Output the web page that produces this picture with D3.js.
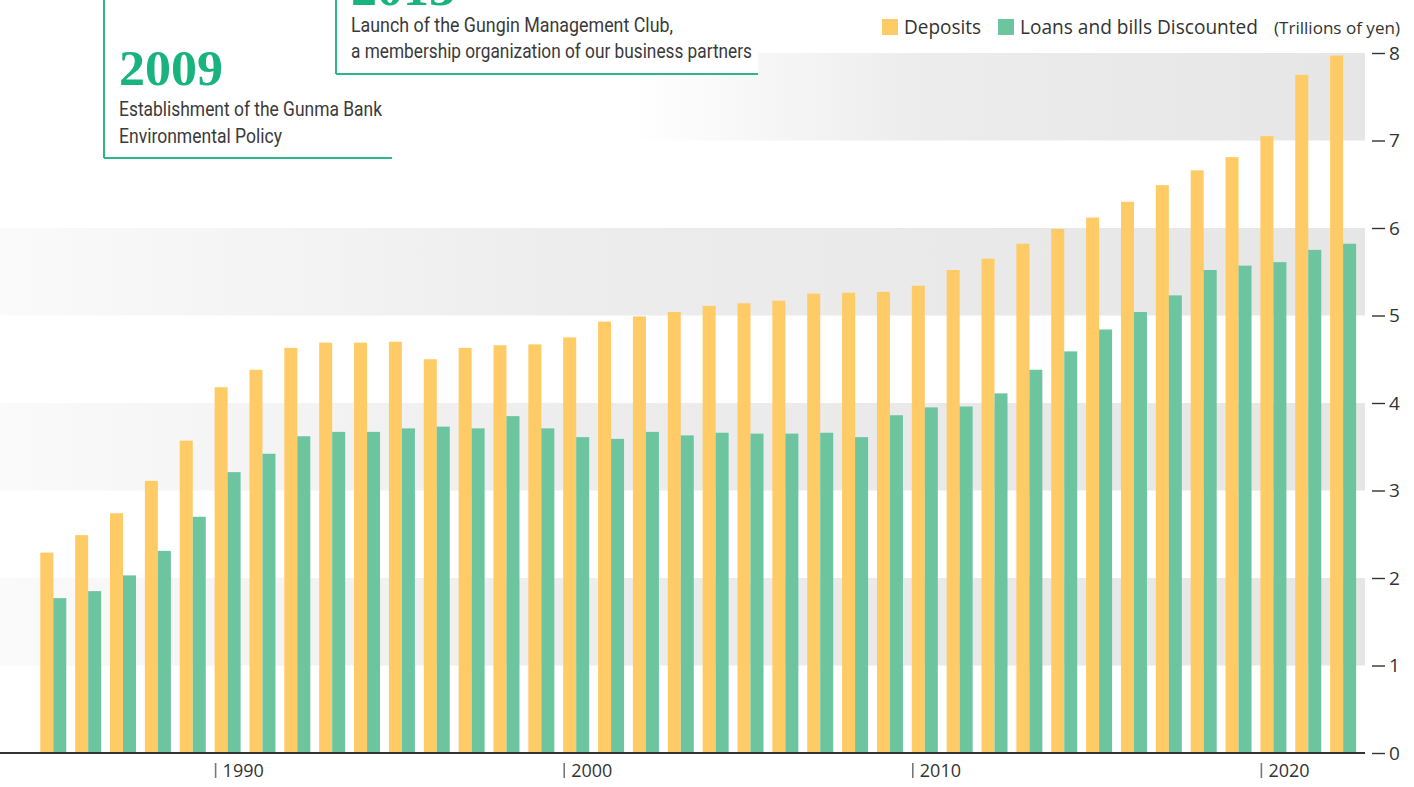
<!DOCTYPE html>
<html>
<head>
<meta charset="utf-8">
<script src="https://cdn.jsdelivr.net/npm/d3@7"></script>
<style>
  html, body { margin: 0; padding: 0; background: #fff; }
  svg { display: block; }
</style>
</head>
<body>
<svg id="chart" width="1414" height="787"></svg>
<script>
// ---- data (trillions of yen) ----
const years = d3.range(1985, 2023);
const deposits = [2.29, 2.49, 2.74, 3.11, 3.57, 4.18, 4.38, 4.63, 4.69, 4.69,
                  4.70, 4.50, 4.63, 4.66, 4.67, 4.75, 4.93, 4.99, 5.04, 5.11,
                  5.14, 5.17, 5.25, 5.26, 5.27, 5.34, 5.52, 5.65, 5.82, 5.99,
                  6.12, 6.30, 6.49, 6.66, 6.81, 7.05, 7.75, 7.97];
const loans =    [1.77, 1.85, 2.03, 2.31, 2.70, 3.21, 3.42, 3.62, 3.67, 3.67,
                  3.71, 3.73, 3.71, 3.85, 3.71, 3.61, 3.59, 3.67, 3.63, 3.66,
                  3.65, 3.65, 3.66, 3.61, 3.86, 3.95, 3.96, 4.11, 4.38, 4.59,
                  4.84, 5.04, 5.23, 5.52, 5.57, 5.61, 5.75, 5.82];
const seriesNames = ["Deposits", "Loans and bills Discounted"];
const seriesKeys = ["dep", "loan"];
const yTicks = [0, 1, 2, 3, 4, 5, 6, 7, 8];
const xLabelYears = [1990, 2000, 2010, 2020];
const bandStarts = [1, 3, 5, 7];

const colors = { dep: "#ffcb66", loan: "#6dc59f" };
const green = "#2db686";

const svg = d3.select("#chart");
const plotRight = 1365;
const y0 = 753;

const y = d3.scaleLinear().domain([0, 8]).range([y0, 53]);

const step = 34.86;
const outer = 40.3 / step;
const inner = 1 - 26 / step;
const x = d3.scaleBand().domain(years)
  .range([0, step * (years.length - inner + 2 * outer)])
  .paddingInner(inner).paddingOuter(outer);
const x1 = d3.scaleBand().domain(seriesKeys).range([0, x.bandwidth()]);

// ---- gradients ----
const defs = svg.append("defs");
const g1 = defs.append("linearGradient").attr("id", "bandGrad")
  .attr("gradientUnits", "userSpaceOnUse").attr("x1", 0).attr("x2", plotRight).attr("y1", 0).attr("y2", 0);
g1.append("stop").attr("offset", 0).attr("stop-color", "#fafafa");
g1.append("stop").attr("offset", 0.45).attr("stop-color", "#ececec");
g1.append("stop").attr("offset", 1).attr("stop-color", "#e6e6e6");
const g2 = defs.append("linearGradient").attr("id", "bandGradTop")
  .attr("gradientUnits", "userSpaceOnUse").attr("x1", 630).attr("x2", plotRight).attr("y1", 0).attr("y2", 0);
g2.append("stop").attr("offset", 0).attr("stop-color", "#ffffff");
g2.append("stop").attr("offset", 0.4).attr("stop-color", "#ececec");
g2.append("stop").attr("offset", 1).attr("stop-color", "#e6e6e6");

// ---- background bands ----
svg.append("g").selectAll("rect").data(bandStarts).join("rect")
  .attr("x", 0).attr("width", plotRight)
  .attr("y", d => y(d + 1)).attr("height", d => y(d) - y(d + 1))
  .attr("fill", d => d === 7 ? "url(#bandGradTop)" : "url(#bandGrad)");

// ---- bars ----
const rows = years.map((yr, i) => ({ year: yr, dep: deposits[i], loan: loans[i] }));
const groups = svg.append("g").selectAll("g").data(rows).join("g")
  .attr("transform", d => `translate(${x(d.year)},0)`);
groups.selectAll("rect").data(d => seriesKeys.map(k => ({ key: k, value: d[k] }))).join("rect")
  .attr("x", d => x1(d.key)).attr("width", x1.bandwidth())
  .attr("y", d => y(d.value)).attr("height", d => y0 - y(d.value))
  .attr("fill", d => colors[d.key]);

// ---- x axis line ----
svg.append("line").attr("x1", 0).attr("x2", plotRight).attr("y1", y0).attr("y2", y0)
  .attr("stroke", "#333").attr("stroke-width", 2);

// x labels
const xl = svg.append("g").selectAll("g").data(xLabelYears).join("g")
  .attr("transform", d => `translate(${x(d)},0)`);
xl.append("line").attr("x1", 1).attr("x2", 1).attr("y1", 763).attr("y2", 778)
  .attr("stroke", "#777").attr("stroke-width", 1.6);
xl.append("text").attr("x", 8).attr("y", 777)
  .attr("font-family", "Open Sans, sans-serif").attr("font-size", 18).attr("fill", "#333")
  .text(d => d);

// ---- y axis ----
const yAxis = d3.axisRight(y).tickValues(yTicks).tickSize(13).tickPadding(4).tickFormat(d3.format("d"));
const ya = svg.append("g").attr("transform", `translate(1372,0)`).call(yAxis);
ya.select(".domain").remove();
ya.selectAll(".tick line").attr("stroke", "#333").attr("stroke-width", 1.4);
ya.selectAll(".tick text").attr("font-family", "Open Sans, sans-serif").attr("font-size", 19).attr("fill", "#333");

// ---- legend ----
const legendX = [882, 998];
const legendTextW = [77, 238];
const lg = svg.append("g").selectAll("g").data(seriesKeys).join("g")
  .attr("transform", (d, i) => `translate(${legendX[i]},0)`);
lg.append("rect").attr("x", 0).attr("y", 19).attr("width", 16).attr("height", 16)
  .attr("fill", d => colors[d]);
lg.append("text").attr("x", 22).attr("y", 34)
  .attr("font-family", "Open Sans, sans-serif").attr("font-size", 20).attr("fill", "#333")
  .attr("textLength", (d, i) => legendTextW[i]).attr("lengthAdjust", "spacingAndGlyphs")
  .text((d, i) => seriesNames[i]);
svg.append("text").attr("x", 1274).attr("y", 34)
  .attr("font-family", "Open Sans, sans-serif").attr("font-size", 15.5).attr("fill", "#333")
  .attr("textLength", 126).attr("lengthAdjust", "spacingAndGlyphs")
  .text("(Trillions of yen)");

// ---- annotation boxes ----
const notes = [
  { year: "2009", left: 104, right: 392, bottom: 158, yearBase: 85, lines: [
      { t: "Establishment of the Gunma Bank", w: 263, base: 116 },
      { t: "Environmental Policy", w: 163, base: 143 }] },
  { year: "2013", left: 336, right: 758, bottom: 74, yearBase: 5, lines: [
      { t: "Launch of the Gungin Management Club,", w: 322, base: 32 },
      { t: "a membership organization of our business partners", w: 401, base: 58 }] }
];
notes.forEach(n => {
  const g = svg.append("g");
  g.append("rect").attr("x", n.left).attr("y", -2).attr("width", n.right - n.left).attr("height", n.bottom + 2)
    .attr("fill", "#fff");
  g.append("line").attr("x1", n.left).attr("x2", n.left).attr("y1", 0).attr("y2", n.bottom)
    .attr("stroke", green).attr("stroke-width", 2);
  g.append("line").attr("x1", n.left).attr("x2", n.right).attr("y1", n.bottom).attr("y2", n.bottom)
    .attr("stroke", green).attr("stroke-width", 2);
  g.append("text").attr("x", n.left + 15).attr("y", n.yearBase)
    .attr("font-family", "Liberation Serif, DejaVu Serif, serif").attr("font-size", 50)
    .attr("font-weight", "bold")
    .attr("fill", "#19b37e").attr("textLength", 104).attr("lengthAdjust", "spacingAndGlyphs")
    .text(n.year);
  n.lines.forEach(l => {
    g.append("text").attr("x", n.left + 15).attr("y", l.base)
      .attr("font-family", "Roboto, Open Sans, sans-serif").attr("font-size", 21).attr("fill", "#3a3a3a")
      .attr("textLength", l.w).attr("lengthAdjust", "spacingAndGlyphs")
      .text(l.t);
  });
});
</script>
</body>
</html>
